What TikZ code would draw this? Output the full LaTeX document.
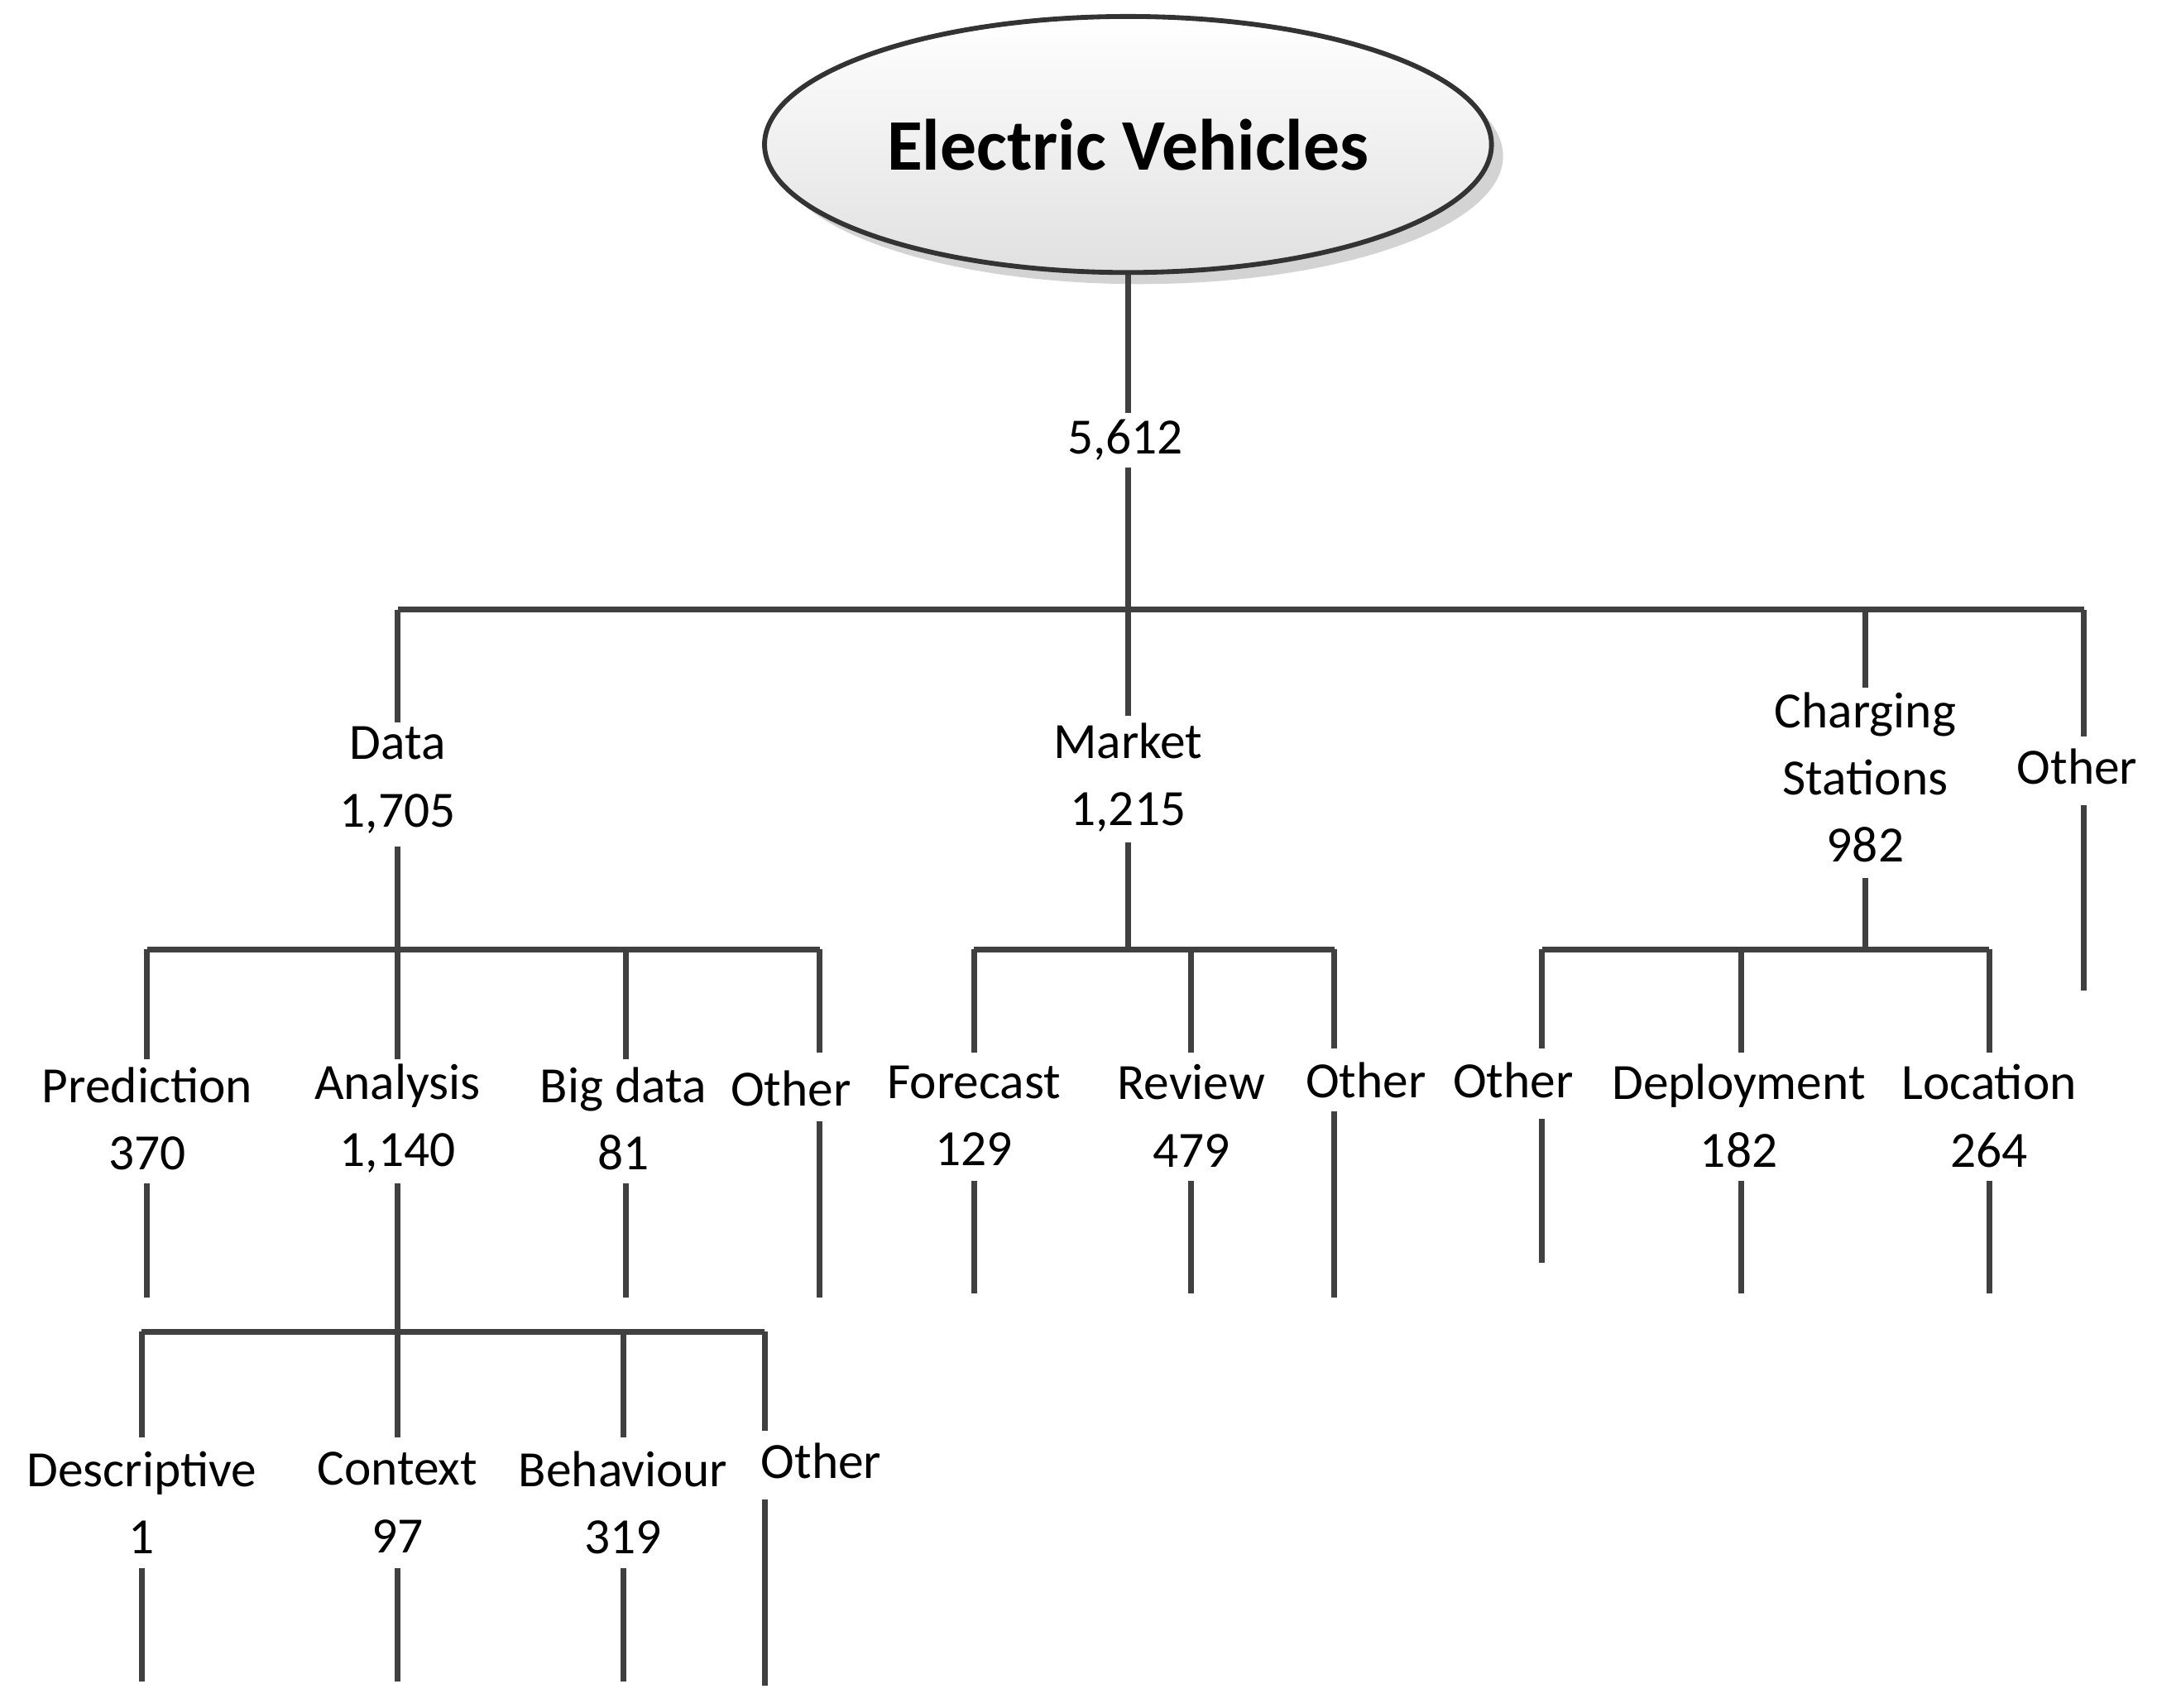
\documentclass[tikz,border=0pt]{standalone}
\usepackage{fontspec}
\setmainfont{Carlito}
\usetikzlibrary{shapes.geometric,shadows}
\tikzset{
  branch/.style={draw=black!75, line width=1.2pt},
  lbl/.style={inner sep=0pt, align=center, font=\fontsize{10.5}{13.9}\selectfont},
  root/.style={ellipse, draw=black!80, line width=1pt, top color=white, bottom color=black!12,
    drop shadow={opacity=0.35}, minimum width=4.84cm, minimum height=1.86cm,
    font=\fontsize{15}{18}\selectfont\bfseries}
}
\begin{document}
\begin{tikzpicture}[x=0.01cm,y=-0.01cm]
\useasboundingbox (0,0) rectangle (1568,1241);
\node[root] (ev) at (820,105) {Electric Vehicles};
\node[lbl] (total) at (818,320) {5,612};
\draw[branch] (ev.south) -- (820,300);
\draw[branch] (820,340) -- (820,443);
% bars
\draw[branch] (289,443) coordinate (rootL) -- (1515,443) coordinate (rootR);
\draw[branch] (107,690) coordinate (dataL) -- (596,690) coordinate (dataR);
\draw[branch] (708,690) coordinate (marketL) -- (970,690) coordinate (marketR);
\draw[branch] (1121,690) coordinate (chargeL) -- (1446,690) coordinate (chargeR);
\draw[branch] (103,968) coordinate (analL) -- (556,968) coordinate (analR);
% name / line x / bar y / line top / label x / label y / line resume / end / text
\foreach \n/\x/\b/\t/\lx/\ly/\r/\e/\txt in {
  data/289/443/525/289/567/615/690/{Data\\1,705},
  market/820/443/520/820/565/612/690/{Market\\1,215},
  charge/1356/443/500/1356/565/638/690/{Charging\\Stations\\982},
  otherA/1515/443/535/1510/557/585/720/{Other},
  pred/107/690/770/107/813/860/943/{Prediction\\370},
  anal/289/690/770/289/813/860/968/{Analysis\\1,140},
  big/455/690/770/453/813/860/943/{Big data\\81},
  otherB/596/690/765/575/791/815/943/{Other},
  fore/708/690/765/708/811/858/940/{Forecast\\129},
  rev/866/690/765/866/811/858/940/{Review\\479},
  otherC/970/690/762/993/785/808/943/{Other},
  otherD/1121/690/762/1100/785/813/918/{Other},
  dep/1266/690/765/1264/811/858/940/{Deployment\\182},
  loc/1446/690/765/1446/811/858/940/{Location\\264},
  desc/103/968/1045/103/1092/1140/1222/{Descriptive\\1},
  ctx/289/968/1045/289/1092/1140/1222/{Context\\97},
  beh/453/968/1045/453/1092/1140/1222/{Behaviour\\319},
  otherE/556/968/1040/597/1062/1090/1225/{Other}}
{
  \node[lbl] (\n) at (\lx,\ly) {\txt};
  \coordinate (\n-top) at (\x,\b);
  \coordinate (\n-end) at (\x,\e);
  \draw[branch] (\n-top) -- (\x,\t);
  \draw[branch] (\x,\r) -- (\n-end);
}
\end{tikzpicture}
\end{document}
